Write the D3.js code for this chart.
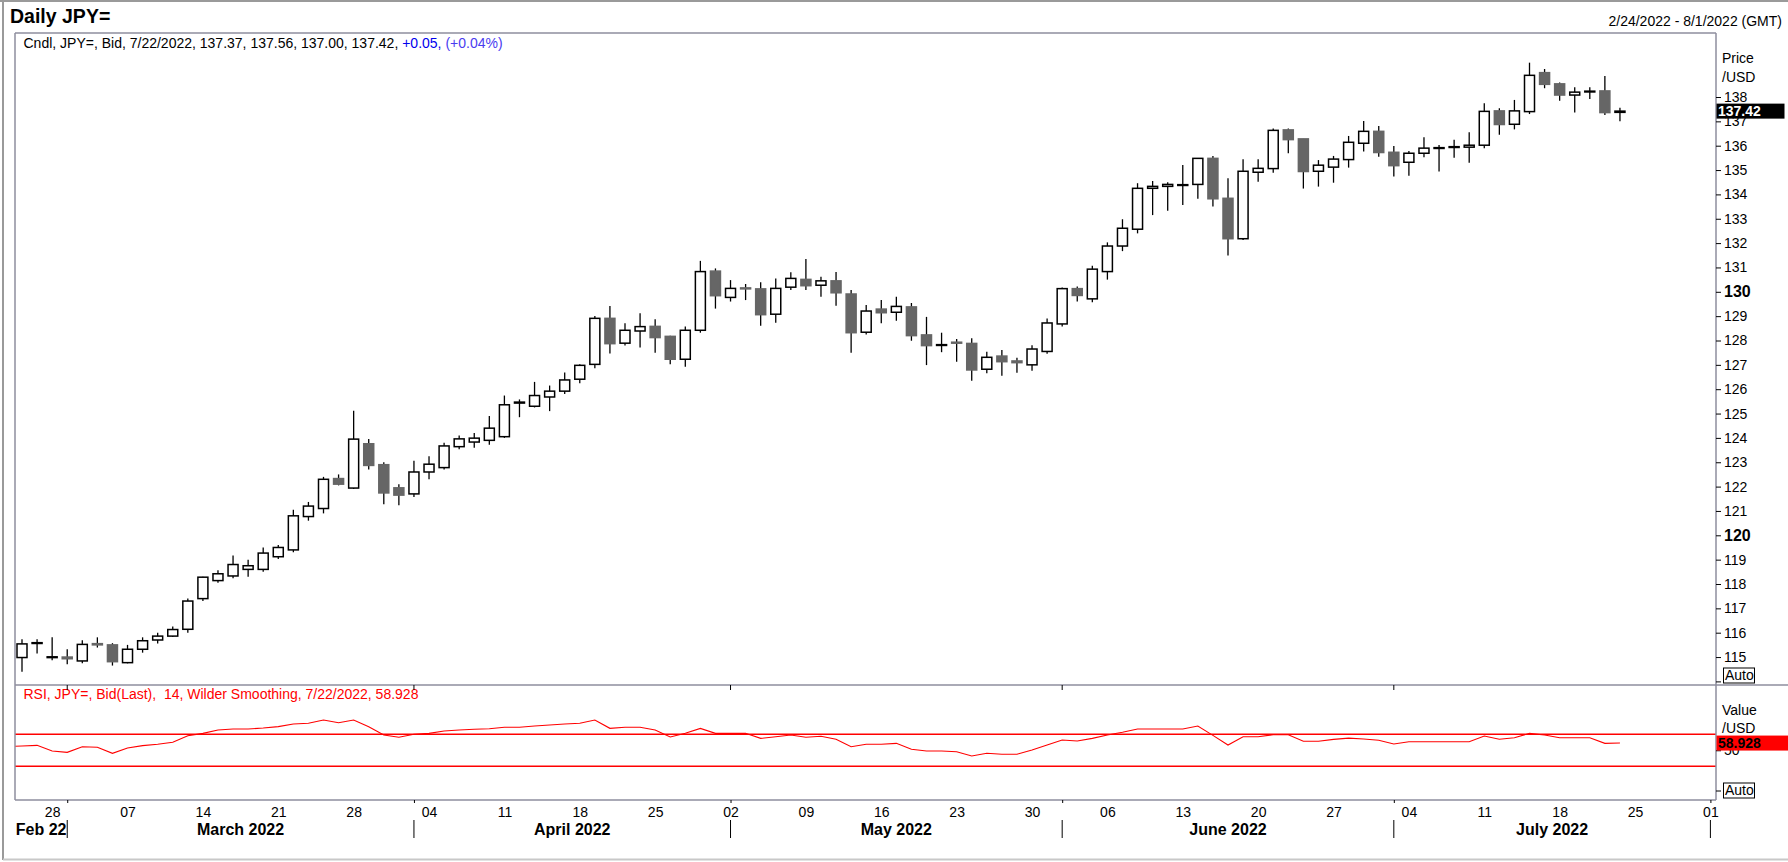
<!DOCTYPE html>
<html>
<head>
<meta charset="utf-8">
<script src="https://cdn.jsdelivr.net/npm/d3@7"></script>
<style>
body { margin: 0; background: #fff; }
text { font-family: Arial, "Liberation Sans", sans-serif; }
</style>
</head>
<body>
<svg id="chart"></svg>
<script>
// trading days shown on the time axis (data runs to 7/22, axis to 8/1)
var dates = ["2/24","2/25","2/28",
  "3/1","3/2","3/3","3/4","3/7","3/8","3/9","3/10","3/11","3/14","3/15","3/16","3/17","3/18",
  "3/21","3/22","3/23","3/24","3/25","3/28","3/29","3/30","3/31",
  "4/1","4/4","4/5","4/6","4/7","4/8","4/11","4/12","4/13","4/14","4/15","4/18","4/19","4/20","4/21","4/22",
  "4/25","4/26","4/27","4/28","4/29",
  "5/2","5/3","5/4","5/5","5/6","5/9","5/10","5/11","5/12","5/13","5/16","5/17","5/18","5/19","5/20",
  "5/23","5/24","5/25","5/26","5/27","5/30","5/31",
  "6/1","6/2","6/3","6/6","6/7","6/8","6/9","6/10","6/13","6/14","6/15","6/16","6/17","6/20","6/21","6/22","6/23","6/24",
  "6/27","6/28","6/29","6/30",
  "7/1","7/4","7/5","7/6","7/7","7/8","7/11","7/12","7/13","7/14","7/15","7/18","7/19","7/20","7/21","7/22",
  "7/25","7/26","7/27","7/28","7/29","8/1"];

var opens = [114.98,115.57,114.98,115.00,114.84,115.55,115.50,114.77,115.32,115.70,115.86,116.14,117.40,118.14,118.33,118.60,118.60,119.12,119.40,120.77,
  121.10,122.33,121.94,123.76,122.90,121.95,121.70,122.60,122.78,123.64,123.83,123.90,124.05,125.43,125.30,125.68,125.92,126.41,127.02,128.91,
  127.89,128.39,128.58,128.17,127.23,128.42,130.85,129.77,130.16,130.12,129.08,130.19,130.51,130.27,130.45,129.91,128.34,129.29,129.16,129.38,
  128.23,127.80,127.93,127.88,126.82,127.36,127.16,127.00,127.55,128.68,130.13,129.71,130.83,131.88,132.57,134.25,134.33,134.37,134.41,135.48,
  133.84,132.18,134.91,135.06,136.65,136.28,134.95,135.12,135.43,136.10,136.59,135.73,135.32,135.69,135.90,135.94,135.94,136.02,137.43,136.88,
  137.40,139.00,138.54,138.08,138.22,138.25,137.37];
var highs = [115.73,115.73,115.81,115.32,115.69,115.81,115.57,115.50,115.81,116.00,116.25,117.40,118.30,118.56,119.17,119.00,119.50,119.60,121.05,121.37,
  122.40,122.50,125.12,123.95,123.00,122.10,123.06,123.25,123.80,124.10,124.20,124.90,125.74,125.58,126.30,126.15,126.69,127.02,129.01,129.42,
  128.71,129.12,128.87,128.20,128.58,131.27,130.96,130.48,130.32,130.39,130.55,130.80,131.35,130.62,130.81,130.07,129.46,129.66,129.80,129.54,
  128.97,128.32,128.06,128.09,127.54,127.61,127.29,127.80,128.90,130.18,130.22,131.07,132.03,132.98,134.46,134.55,134.50,135.21,135.48,135.58,
  134.66,135.44,135.44,136.71,136.71,136.28,135.41,135.58,136.40,137.01,136.81,135.99,135.78,136.35,136.03,136.24,136.55,137.74,137.54,137.88,
  139.41,139.15,138.60,138.40,138.40,138.86,137.56];
var lows = [114.40,115.15,114.87,114.70,114.75,115.39,114.65,114.74,115.18,115.56,115.82,116.00,117.30,118.05,118.24,118.30,118.50,119.03,119.30,120.60,
  120.90,122.05,121.90,122.70,121.28,121.23,121.57,122.30,122.70,123.53,123.60,123.72,124.00,124.85,125.25,125.10,125.80,126.24,126.86,127.47,
  127.79,127.71,127.50,127.02,126.92,128.32,129.31,129.60,129.66,128.61,128.73,130.07,130.07,129.80,129.43,127.50,128.25,128.71,128.81,127.99,
  126.99,127.52,127.13,126.35,126.65,126.55,126.68,126.76,127.46,128.58,129.60,129.57,130.50,131.67,132.40,133.15,133.33,133.56,133.82,133.50,
  131.49,132.13,134.52,134.89,135.69,134.24,134.32,134.48,135.10,135.76,135.55,134.73,134.77,135.53,134.94,135.51,135.30,135.90,136.45,136.67,
  137.30,138.36,137.85,137.36,137.92,137.26,137.00];
var closes = [115.54,115.59,115.01,114.93,115.52,115.50,114.81,115.32,115.67,115.86,116.13,117.30,118.28,118.42,118.80,118.75,119.27,119.50,120.80,121.20,
  122.30,122.10,123.95,122.87,121.74,121.65,122.60,122.92,123.67,123.96,123.99,124.40,125.36,125.47,125.74,125.92,126.38,126.98,128.91,127.87,
  128.42,128.57,128.12,127.23,128.42,130.83,129.84,130.14,130.12,129.06,130.14,130.55,130.25,130.45,129.96,128.32,129.21,129.14,129.40,128.20,
  127.79,127.83,127.89,126.79,127.31,127.13,127.09,127.65,128.72,130.13,129.85,130.93,131.88,132.61,134.25,134.33,134.41,134.40,135.48,133.82,
  132.18,134.95,135.07,136.63,136.25,134.94,135.20,135.45,136.14,136.59,135.72,135.18,135.69,135.90,135.92,135.96,136.02,137.41,136.87,137.43,
  138.89,138.52,138.08,138.20,138.24,137.36,137.42];

// RSI(14); rsiPrev is the 2/23 value just left of the first candle
var rsiPrev = 54.6;
var rsi = [55.3,56.1,49.1,47.4,54.4,53.7,46.2,52.8,55.7,57.4,59.9,68.1,71.0,75.2,76.4,76.4,77.6,79.3,82.6,83.5,
  87.6,84.2,87.6,79.3,68.9,66.1,69.8,71.0,73.9,75.2,76.0,76.8,78.5,78.5,80.1,81.4,82.6,83.5,87.6,77.2,
  78.5,78.5,75.2,66.5,71.0,77.2,71.0,71.0,71.0,64.8,66.8,68.9,66.1,67.3,63.6,54.4,57.4,57.4,58.6,51.2,
  49.1,49.1,48.2,42.9,46.2,45.0,45.0,50.3,56.5,62.7,61.5,64.8,68.9,72.3,76.4,76.4,76.4,76.4,80.1,68.5,
  56.5,66.8,66.8,69.3,69.3,61.1,61.1,63.5,65.0,64.0,62.5,57.8,60.6,60.6,60.6,60.6,60.6,67.7,63.6,65.5,
  71.0,68.9,65.6,65.6,65.6,58.6,58.928];

var priceTicks = [114,115,116,117,118,119,120,121,122,123,124,125,126,127,128,129,130,131,132,133,134,135,136,137,138];
var rsiTicks = [0, 50];
var rsiLevels = [70, 30];
var weekTicks = ["2/28","3/7","3/14","3/21","3/28","4/4","4/11","4/18","4/25","5/2","5/9","5/16","5/23","5/30",
  "6/6","6/13","6/20","6/27","7/4","7/11","7/18","7/25","8/1"];
var monthNames = ["Feb 22","March 2022","April 2022","May 2022","June 2022","July 2022"];
var monthStarts = ["2/24","3/1","4/1","5/2","6/1","7/1","8/1"];

var W = 1788, H = 862;
var pLeft = 15, pRight = 1716, pTop = 33, pDivider = 685, pBottom = 800;

var svg = d3.select("#chart")
    .attr("width", W)
    .attr("height", H)
    .style("display", "block");

var idx = {};
dates.forEach(function(d, i) { idx[d] = i; });

// scales
var x = d3.scaleLinear().domain([0, 112]).range([22, 1710.4]);
var y = d3.scaleLinear().domain([114, 138]).range([681.4, 97]);
var yR = d3.scaleLinear().domain([0, 50]).range([790.5, 750.25]);

// outer frame
svg.append("line").attr("x1", 0).attr("x2", W).attr("y1", 1).attr("y2", 1)
    .attr("stroke", "#9a9a9a").attr("stroke-width", 2);
svg.append("line").attr("x1", 3).attr("x2", 3).attr("y1", 0).attr("y2", 860)
    .attr("stroke", "#9a9a9a").attr("stroke-width", 2);
svg.append("line").attr("x1", 3).attr("x2", W).attr("y1", 859.5).attr("y2", 859.5)
    .attr("stroke", "#c8c8c8").attr("stroke-width", 2);

// headings
svg.append("text").attr("x", 10).attr("y", 23)
    .attr("font-size", "19.5px").attr("font-weight", "bold").text("Daily JPY=");
svg.append("text").attr("x", 1782).attr("y", 26).attr("text-anchor", "end")
    .attr("font-size", "14px").text("2/24/2022 - 8/1/2022 (GMT)");

// clip regions
var defs = svg.append("defs");
defs.append("clipPath").attr("id", "clipP").append("rect")
    .attr("x", pLeft).attr("y", pTop).attr("width", pRight - pLeft).attr("height", pDivider - pTop);
defs.append("clipPath").attr("id", "clipR").append("rect")
    .attr("x", pLeft).attr("y", pDivider).attr("width", pRight - pLeft).attr("height", pBottom - pDivider);

// candles
var candles = svg.append("g").attr("clip-path", "url(#clipP)");
var ohlc = opens.map(function(o, i) { return {i: i, o: o, h: highs[i], l: lows[i], c: closes[i]}; });

candles.selectAll(".wick").data(ohlc).enter().append("line")
    .attr("class", "wick")
    .attr("x1", function(d) { return x(d.i); })
    .attr("x2", function(d) { return x(d.i); })
    .attr("y1", function(d) { return y(d.h); })
    .attr("y2", function(d) { return y(d.l); })
    .attr("stroke", "#000").attr("stroke-width", 1.3);

candles.selectAll(".body").data(ohlc).enter().append("rect")
    .attr("class", "body")
    .attr("x", function(d) { return x(d.i) - 5; })
    .attr("width", 10)
    .attr("y", function(d) { return y(Math.max(d.o, d.c)); })
    .attr("height", function(d) { return Math.max(0.8, Math.abs(y(d.o) - y(d.c))); })
    .attr("fill", function(d) { return d.c >= d.o ? "#fff" : "#666"; })
    .attr("stroke", function(d) { return d.c >= d.o ? "#000" : "#666"; })
    .attr("stroke-width", 1.5);

// RSI panel
var rsiG = svg.append("g").attr("clip-path", "url(#clipR)");
rsiG.selectAll(".lvl").data(rsiLevels).enter().append("line")
    .attr("class", "lvl")
    .attr("x1", pLeft).attr("x2", pRight)
    .attr("y1", function(d) { return yR(d); })
    .attr("y2", function(d) { return yR(d); })
    .attr("stroke", "#ff0000").attr("stroke-width", 1.5);

var rsiData = [{i: -1, v: rsiPrev}].concat(rsi.map(function(v, i) { return {i: i, v: v}; }));
var rsiLine = d3.line()
    .x(function(d) { return x(d.i); })
    .y(function(d) { return yR(d.v); });
rsiG.append("path").datum(rsiData)
    .attr("d", rsiLine)
    .attr("fill", "none").attr("stroke", "#ff0000").attr("stroke-width", 1.1);

// legends
var leg = svg.append("text").attr("x", 23.5).attr("y", 48).attr("font-size", "14px");
leg.append("tspan").attr("fill", "#000")
    .text("Cndl, JPY=, Bid, 7/22/2022, 137.37, 137.56, 137.00, 137.42, ");
leg.append("tspan").attr("fill", "#0000ee").text("+0.05, ");
leg.append("tspan").attr("fill", "#4a3cf0").text("(+0.04%)");

svg.append("text").attr("x", 23.5).attr("y", 699).attr("font-size", "14px")
    .attr("fill", "#ff0000").attr("xml:space", "preserve")
    .text("RSI, JPY=, Bid(Last),  14, Wilder Smoothing, 7/22/2022, 58.928");

// panel borders
var frame = "#8e8e9e";
svg.append("line").attr("x1", pLeft).attr("x2", pRight).attr("y1", pTop).attr("y2", pTop)
    .attr("stroke", frame).attr("stroke-width", 1.5);
svg.append("line").attr("x1", pLeft).attr("x2", W).attr("y1", pDivider).attr("y2", pDivider)
    .attr("stroke", frame).attr("stroke-width", 1.5);
svg.append("line").attr("x1", pLeft).attr("x2", pRight).attr("y1", pBottom).attr("y2", pBottom)
    .attr("stroke", frame).attr("stroke-width", 1.5);
svg.append("line").attr("x1", pLeft).attr("x2", pLeft).attr("y1", pTop).attr("y2", pBottom)
    .attr("stroke", frame).attr("stroke-width", 1.5);
svg.append("line").attr("x1", pRight).attr("x2", pRight).attr("y1", pTop).attr("y2", pBottom)
    .attr("stroke", frame).attr("stroke-width", 1.5);

// price axis
var pAxis = svg.append("g")
    .attr("transform", "translate(" + pRight + ",0)")
    .call(d3.axisRight(y).tickValues(priceTicks).tickSize(5).tickPadding(3)
        .tickFormat(function(d) { return d === 114 ? "" : d; }));
pAxis.select(".domain").remove();
pAxis.selectAll("text")
    .attr("font-size", function(d) { return d % 10 === 0 ? "16px" : "14px"; })
    .attr("font-weight", function(d) { return d % 10 === 0 ? "bold" : "normal"; })
    .attr("font-family", "Arial, 'Liberation Sans', sans-serif")
    .attr("fill", "#000");
pAxis.selectAll("line").attr("stroke", "#000");

svg.append("text").attr("x", 1722).attr("y", 63).attr("font-size", "14px").text("Price");
svg.append("text").attr("x", 1722).attr("y", 82).attr("font-size", "14px").text("/USD");

// RSI axis
var rAxis = svg.append("g")
    .attr("transform", "translate(" + pRight + ",0)")
    .call(d3.axisRight(yR).tickValues(rsiTicks).tickSize(5).tickPadding(3)
        .tickFormat(function(d) { return d === 0 ? "" : d; }));
rAxis.select(".domain").remove();
rAxis.selectAll("text").attr("font-size", "14px")
    .attr("font-family", "Arial, 'Liberation Sans', sans-serif").attr("fill", "#000");
rAxis.selectAll("line").attr("stroke", "#000");

svg.append("text").attr("x", 1722).attr("y", 715).attr("font-size", "14px").text("Value");
svg.append("text").attr("x", 1722).attr("y", 733).attr("font-size", "14px").text("/USD");

// last value labels
var lastClose = closes[closes.length - 1];
svg.append("rect").attr("x", pRight + 0.5).attr("y", y(lastClose) - 7.5)
    .attr("width", 68).attr("height", 15).attr("fill", "#000");
svg.append("text").attr("x", pRight + 2).attr("y", y(lastClose) + 5)
    .attr("font-size", "14px").attr("font-weight", "bold").attr("fill", "#fff")
    .text(lastClose.toFixed(2));

var lastRsi = rsi[rsi.length - 1];
svg.append("rect").attr("x", pRight + 0.5).attr("y", yR(lastRsi) - 7.5)
    .attr("width", W - pRight).attr("height", 15).attr("fill", "#ff0000");
svg.append("text").attr("x", pRight + 2).attr("y", yR(lastRsi) + 5)
    .attr("font-size", "14px").attr("font-weight", "bold").attr("fill", "#000")
    .text(lastRsi.toFixed(3));

// "Auto" buttons
[pDivider, pBottom].forEach(function(b) {
    svg.append("rect").attr("x", 1723.5).attr("y", b - 17).attr("width", 31).attr("height", 15)
        .attr("fill", "#fff").attr("stroke", "#000").attr("stroke-width", 1);
    svg.append("text").attr("x", 1725).attr("y", b - 5).attr("font-size", "14px").text("Auto");
});

// time axis: week days
var tAxis = svg.append("g")
    .attr("transform", "translate(0," + pBottom + ")")
    .call(d3.axisBottom(x).tickValues(weekTicks.map(function(d) { return idx[d]; }))
        .tickSize(0).tickPadding(7)
        .tickFormat(function(i) { var day = dates[i].split("/")[1]; return day.length < 2 ? "0" + day : day; }));
tAxis.select(".domain").remove();
tAxis.selectAll("text").attr("font-size", "14px")
    .attr("font-family", "Arial, 'Liberation Sans', sans-serif").attr("fill", "#000");

// month boundaries
var bounds = monthStarts.slice(1).map(function(d) { return idx[d]; });
var mAxis = svg.append("g")
    .attr("transform", "translate(0," + pBottom + ")")
    .call(d3.axisBottom(x).tickValues(bounds).tickSize(3).tickFormat(""));
mAxis.select(".domain").remove();
mAxis.selectAll("line").attr("stroke", "#000");

svg.selectAll(".msep").data(bounds).enter().append("line")
    .attr("class", "msep")
    .attr("x1", function(d) { return x(d); }).attr("x2", function(d) { return x(d); })
    .attr("y1", 820).attr("y2", 838)
    .attr("stroke", "#000").attr("stroke-width", 1);

svg.selectAll(".mdiv").data(bounds.slice(0, 5)).enter().append("line")
    .attr("class", "mdiv")
    .attr("x1", function(d) { return x(d); }).attr("x2", function(d) { return x(d); })
    .attr("y1", pDivider).attr("y2", pDivider + 5)
    .attr("stroke", "#000").attr("stroke-width", 1);

svg.selectAll(".mlab").data(monthNames).enter().append("text")
    .attr("class", "mlab")
    .attr("x", function(d, k) {
        var a = k === 0 ? pLeft : x(idx[monthStarts[k]]);
        var b = x(idx[monthStarts[k + 1]]);
        return (a + b) / 2;
    })
    .attr("y", 835)
    .attr("text-anchor", "middle")
    .attr("font-size", "16px").attr("font-weight", "bold")
    .text(function(d) { return d; });
</script>
</body>
</html>
